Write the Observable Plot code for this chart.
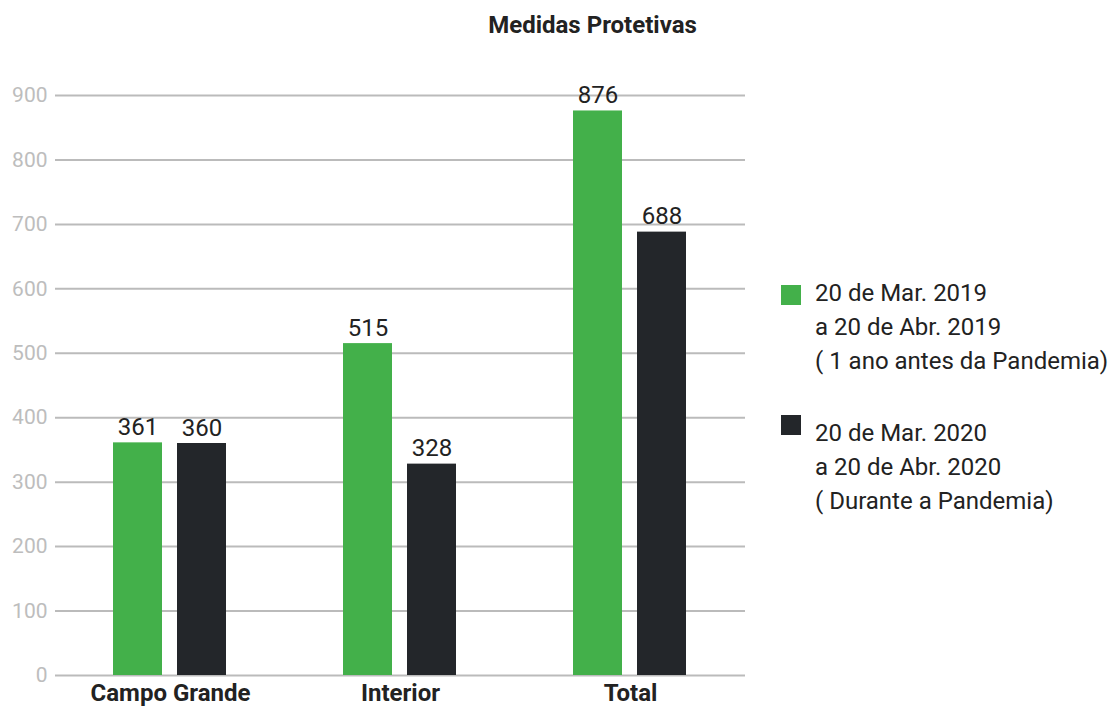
<!DOCTYPE html>
<html>
<head>
<meta charset="utf-8">
<script src="https://cdn.jsdelivr.net/npm/d3@7"></script>
<script src="https://cdn.jsdelivr.net/npm/@observablehq/plot@0.6"></script>
<style>
  html, body { margin: 0; padding: 0; background: #fff; }
  body { width: 1112px; height: 708px; position: relative; overflow: hidden; font-family: Roboto, sans-serif; }
  #title { position: absolute; left: 0; top: 10px; width: 1185px; text-align: center; font-size: 24px; font-weight: bold; color: #222; line-height: 30px; }
  #chart { position: absolute; left: 0; top: 50px; }
  #legend { position: absolute; left: 781px; top: 276px; }
  .item { position: relative; padding-left: 34px; font-size: 24px; line-height: 34px; color: #222; margin-bottom: 38px; white-space: nowrap; }
  .sw { position: absolute; left: 0; top: 9px; width: 20px; height: 20px; }
</style>
</head>
<body>
<div id="title">Medidas Protetivas</div>
<div id="chart"></div>
<div id="legend"></div>
<script>
const categories = ["Campo Grande", "Interior", "Total"];
const periods = ["2019", "2020"];
const values2019 = [361, 515, 876];
const values2020 = [360, 328, 688];
const legendLabels = [
  ["20 de Mar. 2019", "a 20 de Abr. 2019", "( 1 ano antes da Pandemia)"],
  ["20 de Mar. 2020", "a 20 de Abr. 2020", "( Durante a Pandemia)"]
];
const yTicks = [0, 100, 200, 300, 400, 500, 600, 700, 800, 900];
const colors = ["#43b04a", "#23262a"];

const data = [];
categories.forEach((c, i) => {
  data.push({cat: c, period: periods[0], value: values2019[i]});
  data.push({cat: c, period: periods[1], value: values2020[i]});
});

const chart = Plot.plot({
  width: 760,
  height: 658,
  marginLeft: 55,
  marginRight: 15,
  marginTop: 45,
  marginBottom: 33,
  style: {fontFamily: "Roboto, sans-serif", background: "transparent", overflow: "visible"},
  fx: {domain: categories, padding: 0, label: null},
  x: {domain: periods, paddingInner: 0.23, paddingOuter: 0.885, axis: null},
  y: {domain: [0, 900], axis: null},
  color: {domain: periods, range: colors},
  marks: [
    Plot.gridY(yTicks, {stroke: "#bbbbbb", strokeWidth: 2, strokeOpacity: 1}),
    Plot.axisY(yTicks, {tickSize: 0, tickPadding: 8, fontSize: 21, fill: "#bdbdbd", label: null}),
    Plot.barY(data, {fx: "cat", x: "period", y: "value", fill: "period"}),
    Plot.text(data, {fx: "cat", x: "period", y: "value", text: d => String(d.value), lineAnchor: "bottom", dy: -8, fontSize: 24, fill: "#222"}),
    Plot.axisFx({anchor: "bottom", tickSize: 0, tickPadding: 8, fontSize: 24, fontWeight: "bold", fill: "#222", label: null})
  ]
});
document.getElementById("chart").appendChild(chart);

const legend = document.getElementById("legend");
legendLabels.forEach((lines, i) => {
  const item = document.createElement("div");
  item.className = "item";
  const sw = document.createElement("div");
  sw.className = "sw";
  sw.style.background = colors[i];
  if (i === 1) sw.style.top = "-1px";
  item.appendChild(sw);
  lines.forEach(l => {
    const d = document.createElement("div");
    d.textContent = l;
    item.appendChild(d);
  });
  legend.appendChild(item);
});
</script>
</body>
</html>
